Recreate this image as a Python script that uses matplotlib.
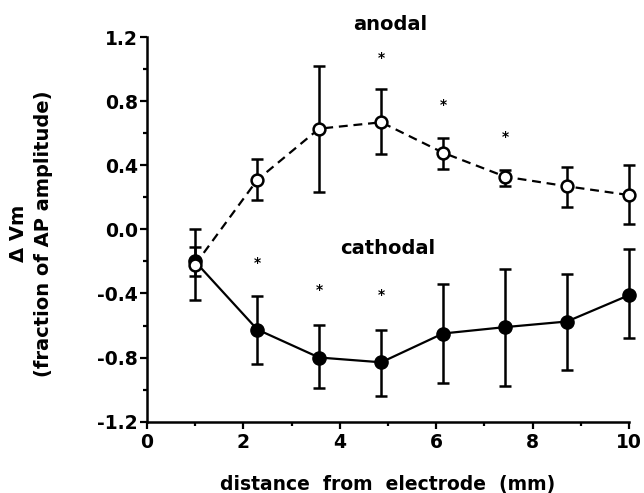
import matplotlib
matplotlib.use("Agg")
import matplotlib.pyplot as plt
import numpy as np

plt.rcParams["font.family"] = ["DejaVu Sans"]
plt.rcParams["font.weight"] = "bold"
plt.rcParams["axes.labelweight"] = "bold"

# distance from electrode (mm)
distance = [1.0, 2.29, 3.57, 4.86, 6.14, 7.43, 8.71, 10.0]

anodal = [-0.22, 0.31, 0.63, 0.67, 0.48, 0.33, 0.27, 0.215]
anodal_lo = [-0.44, 0.185, 0.235, 0.47, 0.38, 0.27, 0.14, 0.035]
anodal_hi = [0.0, 0.44, 1.02, 0.875, 0.57, 0.37, 0.39, 0.40]

cathodal = [-0.20, -0.625, -0.80, -0.83, -0.65, -0.61, -0.575, -0.41]
cathodal_lo = [-0.29, -0.84, -0.99, -1.04, -0.96, -0.98, -0.875, -0.675]
cathodal_hi = [-0.11, -0.415, -0.595, -0.625, -0.34, -0.25, -0.28, -0.125]

# significance stars
anodal_star_x = [4.86, 6.14, 7.43]
anodal_star_y = [1.07, 0.78, 0.58]
cathodal_star_x = [2.29, 3.57, 4.86]
cathodal_star_y = [-0.21, -0.38, -0.41]


def yerr(mid, lo, hi):
    mid = np.array(mid)
    return [mid - np.array(lo), np.array(hi) - mid]


fig = plt.figure(figsize=(6.44, 4.93), dpi=100)
ax = fig.add_axes([0.228, 0.145, 0.749, 0.779])

cat = ax.errorbar(distance, cathodal, yerr=yerr(cathodal, cathodal_lo, cathodal_hi),
                  color="black", lw=1.6, elinewidth=1.8, capsize=4, capthick=1.8,
                  marker="o", ms=9.5, mfc="black", mec="black", zorder=3)
ano = ax.errorbar(distance, anodal, yerr=yerr(anodal, anodal_lo, anodal_hi),
                  color="black", lw=1.6, ls=(0, (4, 2.6)), elinewidth=1.8, capsize=4,
                  capthick=1.8, marker="o", ms=8.5, mfc="white", mec="black",
                  mew=1.8, zorder=4)
for container in (cat, ano):
    for artist in container.get_children():
        artist.set_clip_on(False)

for x, y in zip(anodal_star_x + cathodal_star_x, anodal_star_y + cathodal_star_y):
    ax.text(x, y, "*", ha="center", va="center", fontsize=10)

ax.text(5.05, 1.28, "anodal", ha="center", va="center", fontsize=14)
ax.text(5.0, -0.12, "cathodal", ha="center", va="center", fontsize=14)

ax.set_xlim(0, 10)
ax.set_ylim(-1.2, 1.2)
ax.set_xticks([0, 2, 4, 6, 8, 10])
ax.set_xticks(np.arange(0, 11, 1), minor=True)
ax.set_yticks(np.arange(-1.2, 1.21, 0.4))
ax.set_yticks(np.arange(-1.2, 1.21, 0.2), minor=True)
ax.set_yticklabels(["%.1f" % v for v in np.arange(-1.2, 1.21, 0.4)])
ax.tick_params(which="both", direction="out", width=1.6, labelsize=13.5)
ax.tick_params(which="major", length=5)
ax.tick_params(which="minor", length=3)
ax.tick_params(axis="y", pad=1.5)
for s in ["top", "right"]:
    ax.spines[s].set_visible(False)
for s in ["left", "bottom"]:
    ax.spines[s].set_linewidth(1.8)

ax.set_xlabel("distance  from  electrode  (mm)", fontsize=13.5, labelpad=16)
ax.set_ylabel("\u0394 Vm\n(fraction of AP amplitude)", fontsize=14,
              linespacing=1.4, va="center")
ax.yaxis.set_label_coords(-0.24, 0.489)

fig.savefig("out.png", dpi=100)
